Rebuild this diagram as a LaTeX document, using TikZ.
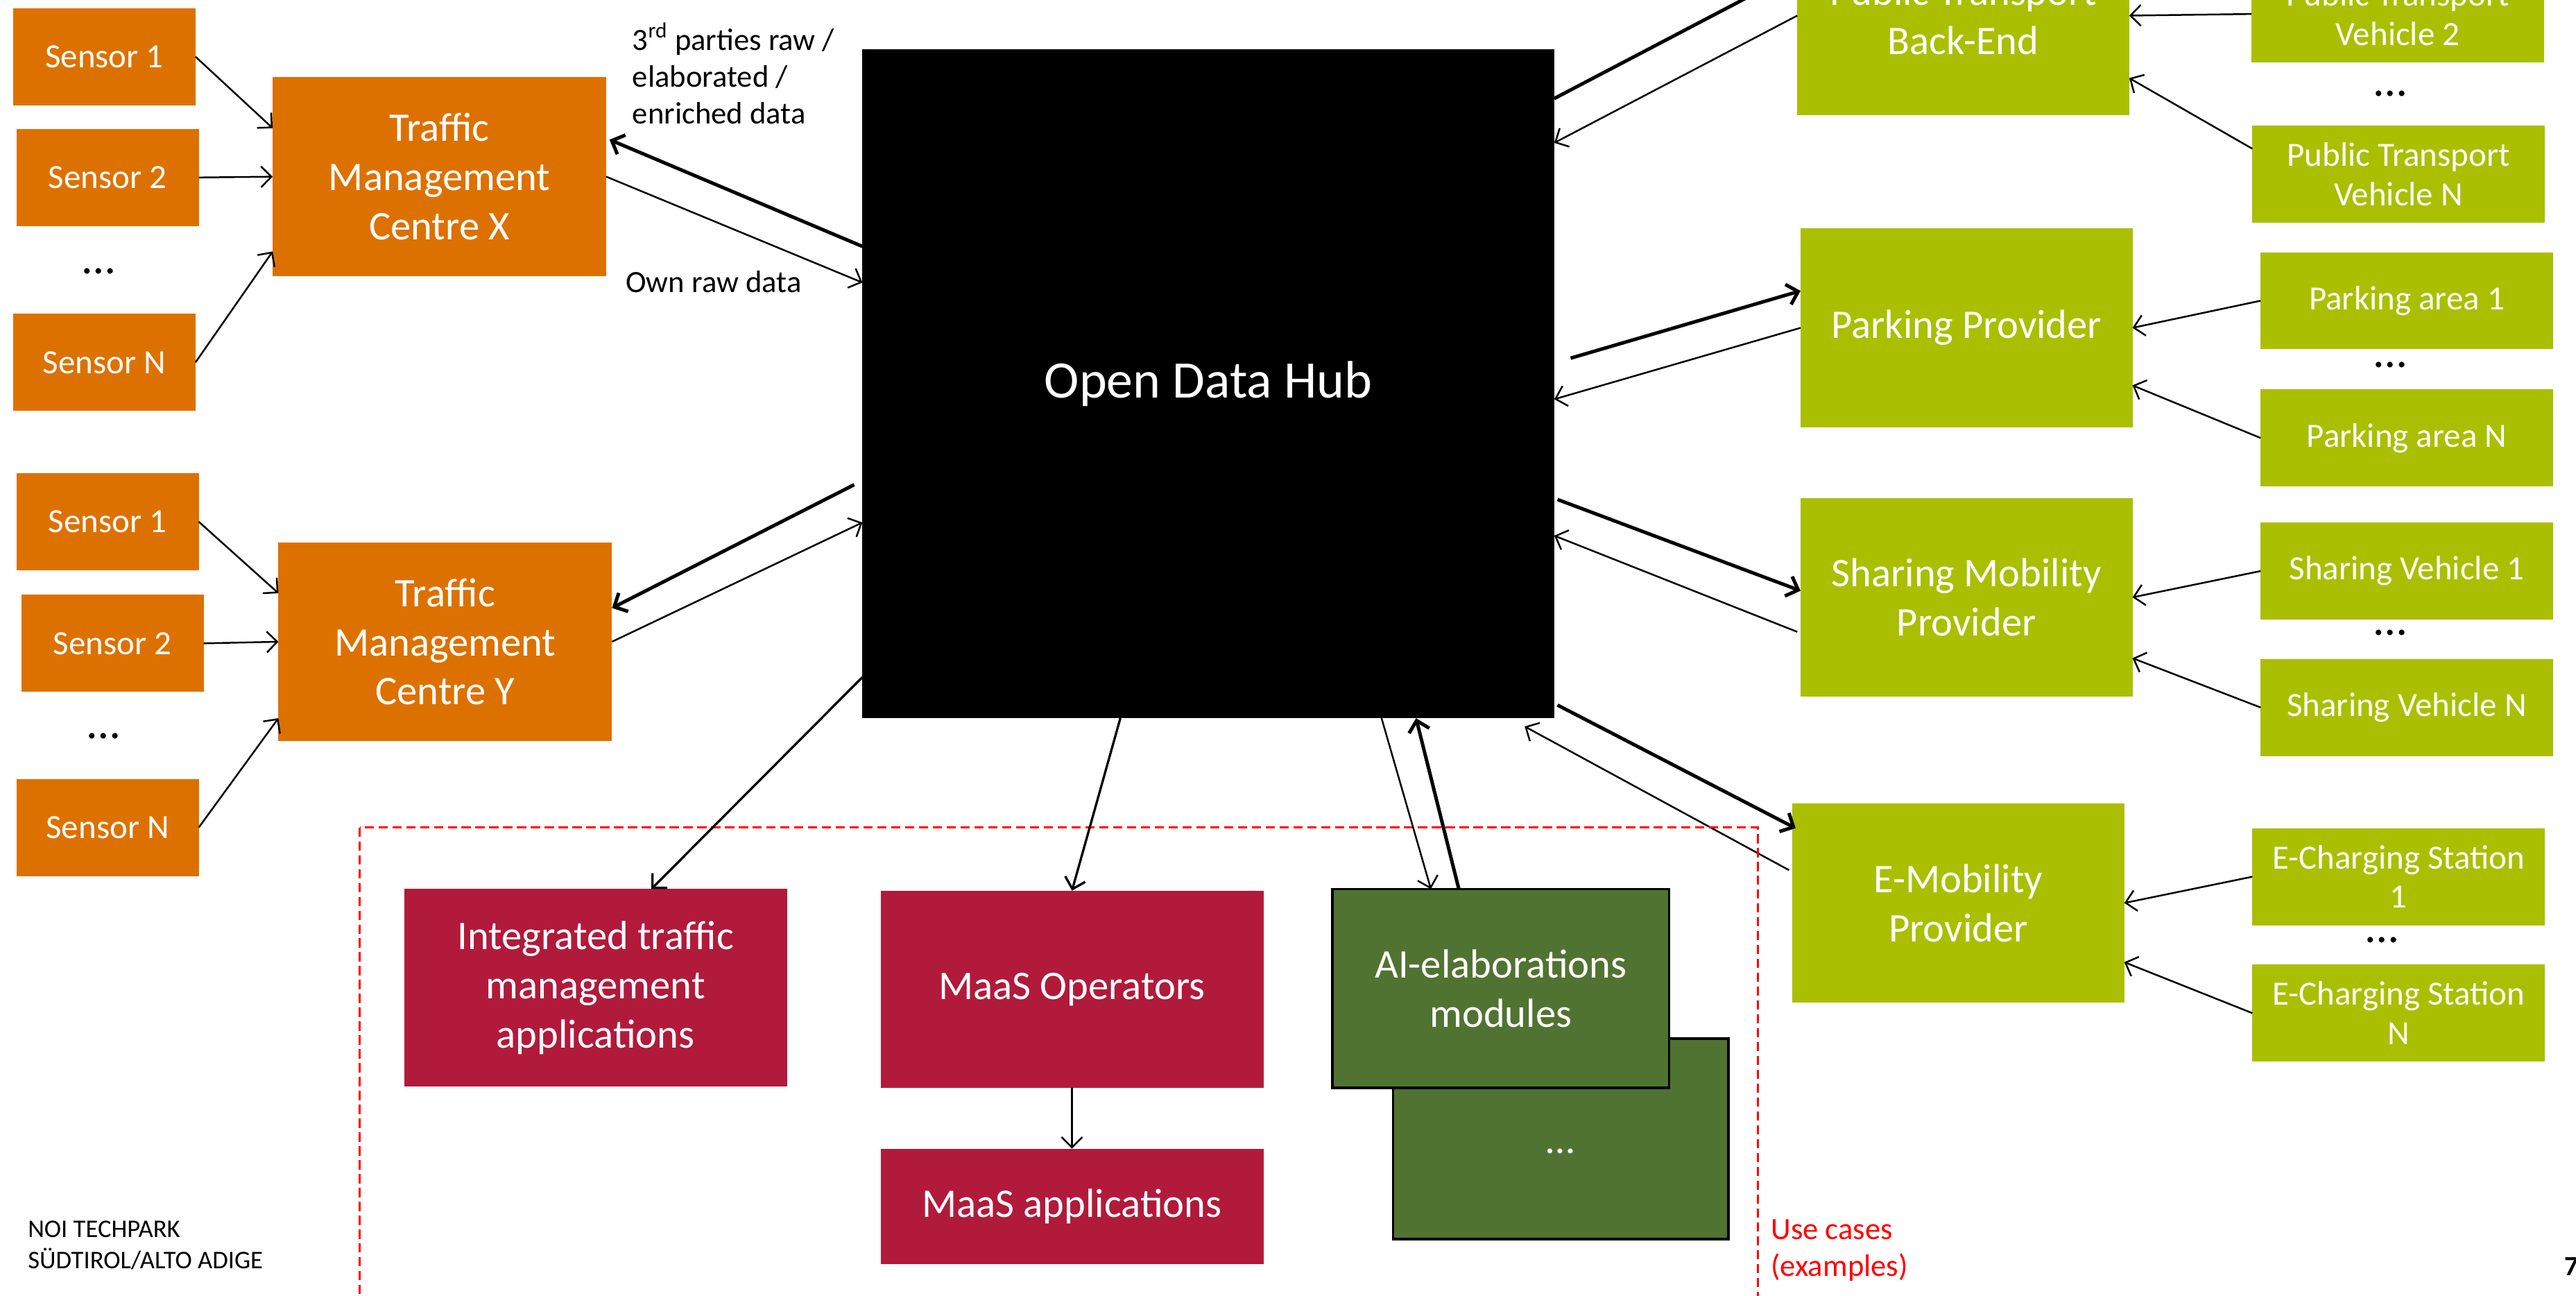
\documentclass[tikz,border=0pt]{standalone}
\usepackage{fontspec}
\setmainfont{Carlito}
\usetikzlibrary{calc,arrows.meta}
\definecolor{noiorange}{RGB}{221,113,0}
\definecolor{noilime}{RGB}{170,191,0}
\definecolor{noired}{RGB}{177,26,59}
\definecolor{noigreen}{RGB}{81,115,50}
\newcommand{\smallsize}{\fontsize{14.7}{17}\selectfont}
\newcommand{\boxsize}{\fontsize{17.6}{21.3}\selectfont}
\newcommand{\hubsize}{\fontsize{22.8}{27}\selectfont}
\newcommand{\notesize}{\fontsize{13.4}{16}\selectfont}
\tikzset{>={Straight Barb[length=4.5pt,width=9pt]},
  every node/.style={inner sep=0pt, outer sep=0pt, align=center},
  sensorbox/.style={fill=noiorange, text=white, font=\smallsize, minimum width=2.775cm, minimum height=1.475cm},
  centrebox/.style={fill=noiorange, text=white, font=\boxsize, minimum width=5.075cm, minimum height=3.025cm},
  providerbox/.style={fill=noilime, text=white, font=\boxsize, minimum width=5.05cm, minimum height=3.025cm},
  sourcebox/.style={fill=noilime, text=white, font=\smallsize, minimum width=4.45cm, minimum height=1.475cm},
  appbox/.style={fill=noired, text=white, font=\boxsize, minimum width=5.825cm, minimum height=3cm},
  aibox/.style={fill=noigreen, draw=black, line width=1pt, text=white, font=\boxsize, minimum width=5.125cm, minimum height=3.025cm},
  dotsnode/.style={font=\fontsize{20}{24}\selectfont},
  datanote/.style={font=\notesize, align=left},
  feed/.style={->, line width=0.75pt},
  appfeed/.style={->, line width=1pt},
  hubfeed/.style={->, line width=1.5pt}}

\begin{document}
\begin{tikzpicture}[x=0.025cm, y=-0.025cm]
   \useasboundingbox (0,0) rectangle (1568,788.6);
   \clip (0,0) rectangle (1568,788.6);
   % hub
   \node[fill=black, text=white, font=\hubsize, minimum width=10.525cm, minimum height=10.175cm] (odh) at (735.5,233.5) {Open Data Hub};
   % traffic management centre X
   \node[sensorbox] (sx1) at (63.5,34.5) {Sensor 1};
   \node[sensorbox] (sx2) at (65.5,108) {Sensor 2};
   \node[dotsnode]  (sxd) at (60,165) {…};
   \node[sensorbox] (sxn) at (63.5,220.5) {Sensor N};
   \node[centrebox] (tmcx) at (267.5,107.5) {Traffic\\Management\\Centre X};
   \draw[feed] (sx1.east) -- ($(tmcx.north west)+(0,31)$);
   \draw[feed] (sx2.east) -- (tmcx.west);
   \draw[feed] (sxn.east) -- ($(tmcx.south west)+(0,-15)$);
   \draw[hubfeed] ($(odh.north west)+(0,120)$) -- ($(tmcx.north east)+(2,38)$);
   \draw[feed] (tmcx.east) -- ($(odh.north west)+(0,142)$);
   \node[datanote, anchor=north west] (third) at (385,14) {3\textsuperscript{rd} parties raw /\\elaborated /\\enriched data};
   \node[datanote, anchor=base west] (own) at (381,178) {Own raw data};
   % traffic management centre Y
   \node[sensorbox] (sy1) at (65.5,317.5) {Sensor 1};
   \node[sensorbox] (sy2) at (68.5,391.5) {Sensor 2};
   \node[dotsnode]  (syd) at (63,448) {…};
   \node[sensorbox] (syn) at (65.5,503.5) {Sensor N};
   \node[centrebox] (tmcy) at (271,390.5) {Traffic\\Management\\Centre Y};
   \draw[feed] (sy1.east) -- ($(tmcy.north west)+(0,31)$);
   \draw[feed] (sy2.east) -- (tmcy.west);
   \draw[feed] (syn.east) -- ($(tmcy.south west)+(0,-14)$);
   \draw[hubfeed] ($(odh.north west)+(-5,265)$) -- ($(tmcy.north east)+(0,40)$);
   \draw[feed] (tmcy.east) -- ($(odh.north west)+(0,288)$);
   % public transport
   \node[providerbox] (ptbe) at (1195,9.5) {Public Transport\\Back-End};
   \node[sourcebox] (ptv2) at (1459.5,8.5) {Public Transport\\Vehicle 2};
   \node[dotsnode]  (ptd) at (1455,57) {…};
   \node[sourcebox] (ptvn) at (1460,106) {Public Transport\\Vehicle N};
   \draw[hubfeed] ($(odh.north east)+(0,30)$) -- ($(ptbe.west)+(0,-27)$);
   \draw[feed] (ptbe.west) -- ($(odh.north east)+(0,57)$);
   \draw[feed] (ptv2.west) -- (ptbe.east);
   \draw[feed] ($(ptvn.north west)+(0,14)$) -- ($(ptbe.east)+(0,38)$);
   % parking
   \node[providerbox] (pp) at (1197,199.5) {Parking Provider};
   \node[sourcebox] (pa1) at (1465,183) {Parking area 1};
   \node[dotsnode]  (pad) at (1455,222) {…};
   \node[sourcebox] (pan) at (1465,266.5) {Parking area N};
   \draw[hubfeed] ($(odh.north east)+(10,188)$) -- ($(pp.north west)+(0,38)$);
   \draw[feed] (pp.west) -- ($(odh.north east)+(0,213)$);
   \draw[feed] (pa1.west) -- (pp.east);
   \draw[feed] (pan.west) -- ($(pp.east)+(0,35)$);
   % sharing
   \node[providerbox] (smp) at (1197,363.5) {Sharing Mobility\\Provider};
   \node[sourcebox] (sv1) at (1465,347.5) {Sharing Vehicle 1};
   \node[dotsnode]  (svd) at (1455,385) {…};
   \node[sourcebox] (svn) at (1465,430.5) {Sharing Vehicle N};
   \draw[hubfeed] ($(odh.north east)+(2,274)$) -- ($(smp.west)+(0,-4)$);
   \draw[feed] ($(smp.west)+(-2,21)$) -- ($(odh.north east)+(0,296)$);
   \draw[feed] (sv1.west) -- (smp.east);
   \draw[feed] (svn.west) -- ($(smp.east)+(0,37)$);
   % e-mobility
   \node[providerbox] (emp) at (1192,549.5) {E-Mobility\\Provider};
   \node[sourcebox] (ecs1) at (1460,533.5) {E-Charging Station\\1};
   \node[dotsnode]  (ecsd) at (1450,572) {…};
   \node[sourcebox] (ecsn) at (1460,616.5) {E-Charging Station\\N};
   \draw[hubfeed] ($(odh.south east)+(2,-8)$) -- ($(emp.north west)+(2,15)$);
   \draw[feed] ($(emp.west)+(-2,-20)$) -- ($(odh.south east)+(-18,5)$);
   \draw[feed] (ecs1.west) -- (emp.east);
   \draw[feed] (ecsn.west) -- ($(emp.east)+(0,36)$);
   % use cases
   \draw[red, line width=0.75pt, dash pattern=on 4pt off 2pt] (219,503.5) rectangle (1070,800);
   \node[datanote, text=red, anchor=north west] (usecases) at (1078,742) {Use cases\\(examples)};
   \node[appbox] (itm) at (362.5,601) {Integrated traffic\\management\\applications};
   \node[appbox] (maasop) at (652.5,602) {MaaS Operators};
   \node[appbox, minimum height=1.75cm] (maasapp) at (652.5,734) {MaaS applications};
   \node[aibox, minimum width=5.1cm, minimum height=3.05cm] (aib) at (950,693) {\raisebox{-1.5ex}{…}};
   \node[aibox] (ai) at (913.5,601.5) {AI-elaborations\\modules};
   \draw[appfeed] ($(odh.south west)+(0,-25)$) -- ($(itm.north)+(34,0)$);
   \draw[appfeed] ($(odh.south west)+(157,0)$) -- (maasop.north);
   \draw[feed] (maasop.south) -- (maasapp.north);
   \draw[feed] ($(odh.south west)+(316,0)$) -- ($(ai.north west)+(60,0)$);
   \draw[hubfeed] ($(ai.north west)+(77,0)$) -- ($(odh.south west)+(337,0)$);
   % footer
   \node[anchor=north west, align=left, font=\fontsize{11}{13.5}\selectfont] (noi) at (17,743) {NOI TECHPARK\\SÜDTIROL/ALTO ADIGE};
   \node[anchor=base west, font=\bfseries\fontsize{12}{14}\selectfont] (pagenum) at (1561,776) {7};
\end{tikzpicture}
\end{document}
